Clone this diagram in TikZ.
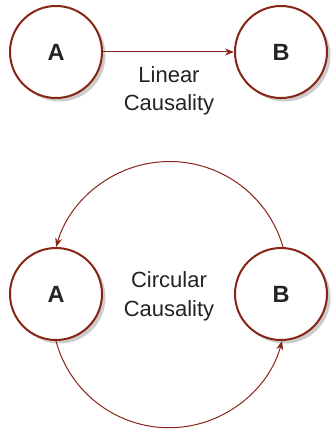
\documentclass[tikz,border=0pt]{standalone}
\usepackage{fontspec}
\setmainfont{Liberation Sans}
\usetikzlibrary{arrows.meta,shadows}
\definecolor{ring}{RGB}{135,38,22}
\definecolor{ink}{RGB}{35,35,35}
\tikzset{
  ball/.style={circle, draw=ring, line width=2pt, fill=white, minimum size=92pt, inner sep=0pt,
    font=\fontsize{23.5}{28}\selectfont\bfseries, text=ink,
    drop shadow={shadow xshift=3.5pt, shadow yshift=-3.5pt, fill=black!20, opacity=1}},
  lbl/.style={anchor=base, font=\fontsize{22}{28}\selectfont, text=ink, inner sep=0pt},
  conn/.style={draw=ring, line width=1pt, -{Stealth[length=9pt,width=7pt]}}
}
\begin{document}
\begin{tikzpicture}[x=1pt,y=1pt]
\useasboundingbox (0,0) rectangle (331,431);
\node[ball] (A1) at (56,379) {A};
\node[ball] (B1) at (281,379) {B};
\node[lbl] (L1) at (169,348) {Linear};
\node[lbl] (L2) at (169,320) {Causality};
\draw[conn] (A1) -- (B1);
\node[ball] (A2) at (56,137) {A};
\node[ball] (B2) at (281,137) {B};
\node[lbl] (C1) at (169,143) {Circular};
\node[lbl] (C2) at (169,114) {Causality};
\draw[conn] ([xshift=2pt]B2.north) arc[start angle=16, end angle=164, radius=118];
\draw[conn] (A2.south) arc[start angle=195, end angle=345, radius=117];
\end{tikzpicture}
\end{document}
